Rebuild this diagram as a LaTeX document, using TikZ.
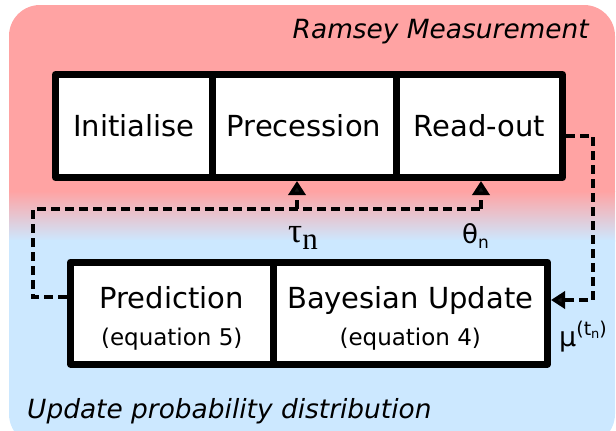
\documentclass[tikz,border=0pt]{standalone}
\usepackage{fontspec}
\setmainfont{DejaVu Sans}[ItalicFont={DejaVu Sans Oblique}]
\newfontfamily\serifgreek{Liberation Serif}
\usetikzlibrary{arrows.meta}
\definecolor{bgpink}{HTML}{FFA3A3}
\definecolor{bgblue}{HTML}{CCE8FF}
\definecolor{tipblack}{HTML}{151515}
\tikzset{
  stepbox/.style={draw=black, fill=white, line width=7pt, line join=round,
    inner sep=0pt, text height=21pt, text depth=0pt,
    font=\fontsize{29}{29}\selectfont},
  dashline/.style={draw=black, line width=3.5pt, dash pattern=on 9pt off 5pt},
  tipup/.style={-{Triangle[width=17pt,length=14pt,fill=tipblack]}},
  lbl/.style={inner sep=0pt, anchor=base west},
}
\begin{document}
\begin{tikzpicture}[x=1pt,y=-1pt]
\useasboundingbox (0,0) rectangle (616,431);
% background
\begin{scope}
\clip[rounded corners=31pt] (9,5) rectangle (615,445);
\fill[bgpink] (0,0) rectangle (616,192);
\shade[top color=bgpink, bottom color=bgblue] (0,191) rectangle (616,241);
\fill[bgblue] (0,240) rectangle (616,445);
\end{scope}
% titles
\node[inner sep=0pt, anchor=base east, font=\fontsize{26.4}{26.4}\selectfont\itshape] (t1) at (589,38) {Ramsey Measurement};
\node[lbl, font=\fontsize{26.4}{26.4}\selectfont\itshape] (t2) at (27,418) {Update probability distribution};
% top boxes
\node[stepbox, minimum width=156.5pt, minimum height=103pt] (init) at (133.75,126) {Initialise};
\node[stepbox, minimum width=184pt, minimum height=103pt] (prec) at (304,126) {Precession};
\node[stepbox, minimum width=166.5pt, minimum height=103pt] (ro) at (479.25,126) {Read-out};
% bottom boxes
\node[stepbox, minimum width=202.5pt, minimum height=102pt] (pred) at (171.75,313) {};
\node[stepbox, minimum width=274.5pt, minimum height=102pt] (bay) at (410.25,313) {};
\node[inner sep=0pt, anchor=base, font=\fontsize{29}{29}\selectfont] (predA) at (171.75,308) {Prediction};
\node[inner sep=0pt, anchor=base, font=\fontsize{23}{23}\selectfont] (predB) at (171.75,345) {(equation 5)};
\node[inner sep=0pt, anchor=base, font=\fontsize{29}{29}\selectfont] (bayA) at (410.25,308) {Bayesian Update};
\node[inner sep=0pt, anchor=base, font=\fontsize{23}{23}\selectfont] (bayB) at (410.25,345) {(equation 4)};
% connectors
\coordinate (lc) at (33,209);
\coordinate (ja) at (297,209);
\coordinate (jb) at (481,209);
\coordinate (rc) at (593,136);
\coordinate (bin) at ([yshift=13pt]bay.east);
\draw[dashline] ([yshift=16pt]pred.west) -| (lc) -- (jb);
\draw[dashline, tipup] (ja) -- (ja |- prec.south);
\draw[dashline, tipup] (jb) -- (jb |- ro.south);
\draw[dashline, tipup] ([yshift=-10pt]ro.east) -- (rc) -- (rc |- bin) -- (bin);
% labels
\node[lbl] (tau) at (288,242) {\serifgreek\fontsize{35}{35}\selectfont τ\raisebox{-7pt}{\fontsize{31}{31}\selectfont n}};
\node[lbl] (theta) at (462,243) {\fontsize{26}{26}\selectfont θ\raisebox{-5pt}{\fontsize{17}{17}\selectfont n}};
\node[lbl] (mu) at (559,346) {\fontsize{27}{27}\selectfont μ\raisebox{10.5pt}{\fontsize{19}{19}\selectfont (t\raisebox{-2.5pt}{\fontsize{13}{13}\selectfont n})}};
\end{tikzpicture}
\end{document}
